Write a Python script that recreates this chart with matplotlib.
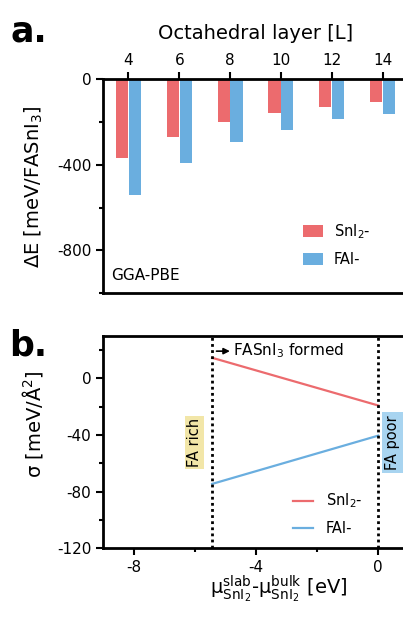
import matplotlib
matplotlib.use("Agg")
import matplotlib.pyplot as plt
import numpy as np

plt.rcParams['font.family'] = ['DejaVu Sans']
plt.rcParams['mathtext.fontset'] = 'dejavusans'
plt.rcParams['axes.unicode_minus'] = False

# ---- data panel a ----
layers = [4, 6, 8, 10, 12, 14]
snI2_dE = [-369, -270, -201, -160, -130, -108]
fai_dE = [-541, -391, -295, -239, -187, -163]

# ---- data panel b ----
mu_range = [-5.43, 0.0]
snI2_sigma = [14.6, -19.1]
fai_sigma = [-74.5, -40.4]

RED = '#EC6B6E'
BLUE = '#6AAEDF'

TICK_FS = 11
LABEL_FS = 14
LEG_FS = 10.5

fig = plt.figure(figsize=(4.03, 6.17), dpi=100)

# ---------------- panel a ----------------
axa = fig.add_axes([103/403, 324/617, 305/403, 213.7/617])
w = 0.48
x = np.array(layers, dtype=float)
axa.bar(x - w/2 - 0.01, snI2_dE, width=w, color=RED, label='SnI$_2$-')
axa.bar(x + w/2 + 0.01, fai_dE, width=w, color=BLUE, label='FAI-')
axa.set_xlim(3, 15)
axa.set_ylim(-1000, 0)
axa.xaxis.set_ticks_position('top')
axa.xaxis.set_label_position('top')
axa.set_xticks(layers)
axa.set_xticklabels([str(v) for v in layers])
axa.set_yticks([0, -400, -800])
axa.set_yticks([-200, -600, -1000], minor=True)
axa.tick_params(axis='both', which='major', labelsize=TICK_FS, width=1.5, length=5, direction='out')
axa.tick_params(axis='y', which='minor', width=1.5, length=3, direction='out')
axa.tick_params(axis='x', pad=3)
for s in ['left', 'top', 'bottom']:
    axa.spines[s].set_linewidth(2)
axa.spines['right'].set_visible(False)
axa.set_xlabel('Octahedral layer [L]', fontsize=14, labelpad=10)
axa.set_ylabel('ΔE [meV/FASnI$_3$]', fontsize=LABEL_FS)
axa.yaxis.set_label_coords(-0.19, 0.5)
axa.text(0.025, 0.045, 'GGA-PBE', transform=axa.transAxes, fontsize=11, ha='left', va='bottom')
axa.legend(loc='center left', bbox_to_anchor=(0.656, 0.227), frameon=False, fontsize=LEG_FS,
           handlelength=1.35, handleheight=0.85, labelspacing=0.75, handletextpad=0.75,
           borderpad=0, borderaxespad=0)
fig.text(11/403, 1 - 42/617, 'a.', fontsize=25, fontweight='bold', ha='left', va='baseline')

# ---------------- panel b ----------------
axb = fig.add_axes([103/403, 68.7/617, 305.8/403, 212.3/617])
axb.plot(mu_range, snI2_sigma, color=RED, lw=1.6, label='SnI$_2$-')
axb.plot(mu_range, fai_sigma, color=BLUE, lw=1.6, label='FAI-')
axb.axvline(mu_range[0], color='black', lw=2, ls=(0, (1, 1.2)))
axb.axvline(mu_range[1], color='black', lw=2, ls=(0, (1, 1.2)))
axb.set_xlim(-9, 1)
axb.set_ylim(-120, 30)
axb.set_xticks([-8, -4, 0])
axb.set_xticks([-6, -2], minor=True)
axb.set_yticks([0, -40, -80, -120])
axb.set_yticks([20, -20, -60, -100], minor=True)
axb.tick_params(axis='both', which='major', labelsize=TICK_FS, width=1.5, length=5, direction='out')
axb.tick_params(axis='both', which='minor', width=1.5, length=3, direction='out')
for s in ['left', 'top', 'bottom']:
    axb.spines[s].set_linewidth(2)
axb.spines['right'].set_visible(False)
axb.set_ylabel('σ [meV/Å$^2$]', fontsize=LABEL_FS)
axb.yaxis.set_label_coords(-0.19, 0.585)
axb.set_xlabel(r'$\mathrm{μ}^{\mathrm{slab}}_{\mathrm{SnI_2}}$-$\mathrm{μ}^{\mathrm{bulk}}_{\mathrm{SnI_2}}$ [eV]',
               fontsize=LABEL_FS, labelpad=4)
axb.xaxis.set_label_coords(0.573, -0.12)
axb.annotate('', xy=(-4.76, 19.3), xytext=(-5.38, 19.3),
             arrowprops=dict(arrowstyle='-|>', color='black', lw=1.2, mutation_scale=9))
axb.text(-4.74, 19.3, 'FASnI$_3$ formed', fontsize=11, ha='left', va='center')
axb.text(-6.01, -45.3, 'FA rich', rotation=90, fontsize=10.5, ha='center', va='center',
         bbox=dict(boxstyle='square,pad=0.15', facecolor='#F2E6A8', edgecolor='none'))
axb.text(0.47, -45.3, 'FA poor', rotation=90, fontsize=10.5, ha='center', va='center',
         bbox=dict(boxstyle='square,pad=0.2', facecolor='#A8D4F0', edgecolor='none'))
axb.legend(loc='center left', bbox_to_anchor=(0.621, 0.1616), frameon=False, fontsize=LEG_FS,
           handlelength=1.4, labelspacing=0.75, handletextpad=0.85,
           borderpad=0, borderaxespad=0)
fig.text(9/403, 1 - 355/617, 'b.', fontsize=25, fontweight='bold', ha='left', va='baseline')

fig.savefig('out.png', dpi=100)
